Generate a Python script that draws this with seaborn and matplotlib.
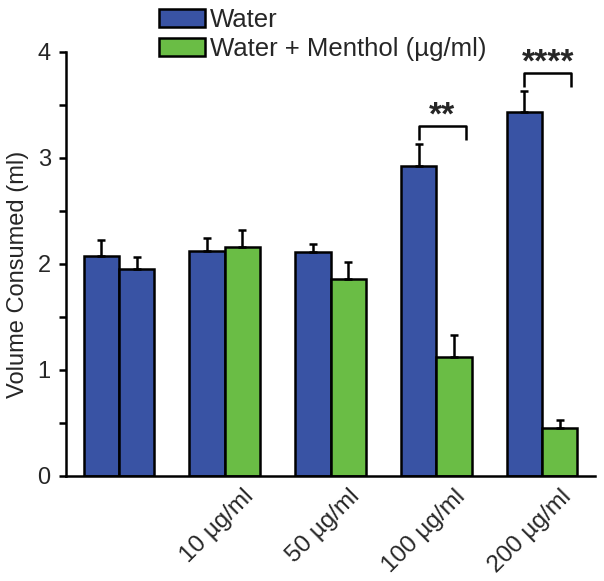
import numpy as np
import pandas as pd
import seaborn as sns
import matplotlib
matplotlib.use('Agg')
import matplotlib.pyplot as plt
import matplotlib.transforms as mtransforms
from matplotlib.patches import Patch
from matplotlib.ticker import MultipleLocator

# Data (means and upper SEM)
conditions = ['Water', '10 µg/ml', '50 µg/ml', '100 µg/ml', '200 µg/ml']
tick_labels = ['', '10 µg/ml', '50 µg/ml', '100 µg/ml', '200 µg/ml']
water_mean = [2.07, 2.12, 2.11, 2.92, 3.43]
water_sem = [0.15, 0.12, 0.08, 0.21, 0.20]
second_mean = [1.95, 2.16, 1.86, 1.12, 0.45]
second_sem = [0.11, 0.16, 0.16, 0.21, 0.08]
# first group is a water/water control, the rest are water vs menthol
second_is_menthol = [False, True, True, True, True]

# significance brackets (group index, label, bracket height)
sig_groups = [3, 4]
sig_labels = ['**', '****']
sig_heights = [3.30, 3.80]

BLUE = '#3953A4'
GREEN = '#6ABD45'
LW = 1.8

sns.set_style('ticks')
plt.rcParams['font.family'] = ['Liberation Sans', 'DejaVu Sans']

df = pd.DataFrame({
    'condition': conditions * 2,
    'slot': ['left'] * 5 + ['right'] * 5,
    'volume': water_mean + second_mean,
})

fig = plt.figure(figsize=(6.04, 5.81), dpi=100)
ax = fig.add_axes([66 / 604, 105 / 581, 529 / 604, 424.5 / 581])

sns.barplot(data=df, x='condition', y='volume', hue='slot', order=conditions,
            hue_order=['left', 'right'], width=0.667, dodge=True,
            errorbar=None, edgecolor='black', linewidth=LW, legend=False, ax=ax)

left_bars = ax.containers[0]
right_bars = ax.containers[1]
for bar in left_bars:
    bar.set_facecolor(BLUE)
for bar, menthol in zip(right_bars, second_is_menthol):
    bar.set_facecolor(GREEN if menthol else BLUE)

# upper-only error bars
for bars, mean, sem in [(left_bars, water_mean, water_sem), (right_bars, second_mean, second_sem)]:
    xs = [b.get_x() + b.get_width() / 2 for b in bars]
    ax.errorbar(xs, mean, yerr=[np.zeros(len(sem)), sem], fmt='none', ecolor='black',
                elinewidth=LW, capsize=3, capthick=LW, zorder=1)

# significance brackets
leg = 0.13
for g, lab, h in zip(sig_groups, sig_labels, sig_heights):
    lb = left_bars[g]
    rb = right_bars[g]
    x0 = lb.get_x() + lb.get_width() / 2
    x1 = rb.get_x() + rb.get_width() * 0.83
    ax.plot([x0, x0, x1, x1], [h - leg, h, h, h - leg], color='black', lw=LW,
            clip_on=False, solid_capstyle='butt')
    ax.annotate(lab, xy=((x0 + x1) / 2, h), xytext=(0, 1), textcoords='offset points',
                ha='center', va='baseline', fontsize=24, fontweight='bold',
                annotation_clip=False)

ax.set_xlim(-0.5, 4.5)
ax.set_ylim(0, 4)
ax.set_yticks([0, 1, 2, 3, 4])
ax.yaxis.set_minor_locator(MultipleLocator(0.5))
ax.tick_params(axis='y', which='both', length=5, width=LW, direction='out',
               labelsize=17, pad=6, color='black')
ax.set_xticks(range(len(conditions)))
ax.set_xticklabels(tick_labels, rotation=45, ha='right', rotation_mode='anchor', fontsize=17.5)
ax.tick_params(axis='x', length=0, pad=7)
shift = mtransforms.ScaledTranslation(0.18, 0, fig.dpi_scale_trans)
for lbl in ax.get_xticklabels():
    lbl.set_transform(lbl.get_transform() + shift)

ax.set_xlabel('')
ax.set_ylabel('Volume Consumed (ml)', fontsize=17)
ax.yaxis.set_label_coords(-0.07, 0.475)

sns.despine(ax=ax)
for side in ['left', 'bottom']:
    ax.spines[side].set_linewidth(LW)
    ax.spines[side].set_color('black')

handles = [Patch(facecolor=BLUE, edgecolor='black', linewidth=LW, label='Water'),
           Patch(facecolor=GREEN, edgecolor='black', linewidth=LW, label='Water + Menthol (µg/ml)')]
fig.legend(handles=handles, loc='upper left', bbox_to_anchor=(159 / 604, 1 - 8 / 581),
           frameon=False, borderpad=0, borderaxespad=0, handlelength=1.78, handleheight=0.72,
           handletextpad=0.22, labelspacing=0.2, fontsize=18.5)

fig.savefig('out.png', dpi=100)
